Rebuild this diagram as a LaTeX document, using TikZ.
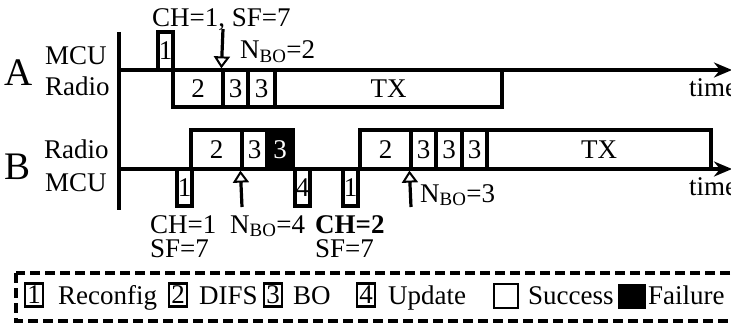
\documentclass[tikz,border=0pt]{standalone}
\usepackage{fontspec}
\setmainfont{Liberation Serif}
\usetikzlibrary{arrows.meta}
\begin{document}
\begin{tikzpicture}[x=1pt,y=-1pt,
  txt/.style={font=\fontsize{27}{27}\selectfont, inner sep=0pt},
  big/.style={font=\fontsize{39}{39}\selectfont, inner sep=0pt},
  axis/.style={line width=3.4pt},
  seg/.style={draw, line width=3.2pt, inner sep=0pt, font=\fontsize{27}{27}\selectfont},
  fail/.style={seg, fill=black, text=white},
  openarr/.style={line width=3.2pt, -{Triangle[open, length=12pt, width=16pt, line width=2pt]}},
  timearr/.style={axis, -{Stealth[length=18pt, width=15pt]}},
  lbox/.style={draw, line width=2.4pt, inner sep=0pt, minimum width=18pt, minimum height=23pt, font=\fontsize{27}{27}\selectfont},
  legend/.style={draw, line width=3.2pt, dash pattern=on 10pt off 5pt}
]
\useasboundingbox (0,0) rectangle (731,326);
\clip (0,0) rectangle (731,326);

% axes
\coordinate (vtop) at (119,32);
\coordinate (vbot) at (119,210);
\draw[axis] (vtop) -- (vbot);
\coordinate (aL) at (118,70);
\coordinate (aR) at (732,70);
\coordinate (bL) at (118,169);
\coordinate (bR) at (732,169);
\draw[timearr] (aL) -- (aR);
\draw[timearr] (bL) -- (bR);

% labels left
\node[big, anchor=base west] (labA) at (4,86) {A};
\node[txt, anchor=base west] (mcuA) at (45,65) {MCU};
\node[txt, anchor=base west] (radA) at (45,96) {Radio};
\node[big, anchor=base west] (labB) at (4,179) {B};
\node[txt, anchor=base west] (radB) at (44,159) {Radio};
\node[txt, anchor=base west] (mcuB) at (45,191) {MCU};

% row A
\node[seg, minimum width=15pt, minimum height=38pt] (a1) at (165.5,51) {1};
\node[seg, minimum width=50pt, minimum height=37pt] (a2) at (198,88.5) {2};
\node[seg, minimum width=25pt, minimum height=37pt] (a3) at (235.5,88.5) {3};
\node[seg, minimum width=27pt, minimum height=37pt] (a3b) at (261.5,88.5) {3};
\node[seg, minimum width=227pt, minimum height=37pt] (atx) at (388.5,88.5) {TX};
\coordinate (arrA) at (223,29);
\draw[openarr] (arrA) -- (a3.north west);
\node[txt, anchor=base west] (cfgA) at (152,27) {CH=1, SF=7};
\node[txt, anchor=base west] (nboA) at (240,59) {N\textsubscript{BO}=2};
\node[txt, anchor=base west] (timeA) at (689,97) {time};

% row B
\node[seg, minimum width=51pt, minimum height=39pt] (b2) at (216.5,149.5) {2};
\node[seg, minimum width=25pt, minimum height=39pt] (b3) at (254.5,149.5) {3};
\node[fail, minimum width=26pt, minimum height=39pt] (b3f) at (280,149.5) {3};
\node[seg, minimum width=51pt, minimum height=39pt] (c2) at (385.5,149.5) {2};
\node[seg, minimum width=25pt, minimum height=39pt] (c3a) at (423.5,149.5) {3};
\node[seg, minimum width=26pt, minimum height=39pt] (c3b) at (449,149.5) {3};
\node[seg, minimum width=25pt, minimum height=39pt] (c3c) at (474.5,149.5) {3};
\node[seg, minimum width=224pt, minimum height=39pt] (ctx) at (599,149.5) {TX};
\node[seg, minimum width=15pt, minimum height=37pt] (b1) at (184.5,187.5) {1};
\node[seg, minimum width=15pt, minimum height=37pt] (b4) at (302.5,187.5) {4};
\node[seg, minimum width=15pt, minimum height=37pt] (c1) at (350.5,187.5) {1};
\coordinate (arrB1) at (242,207);
\coordinate (arrB2) at (411,207);
\draw[openarr] (arrB1) -- (b3.south west);
\draw[openarr] (arrB2) -- (c3a.south west);
\node[txt, anchor=base west] (cfgB1) at (150,233) {CH=1};
\node[txt, anchor=base west] (sfB1) at (150,257) {SF=7};
\node[txt, anchor=base west] (nboB1) at (230,233) {N\textsubscript{BO}=4};
\node[txt, anchor=base west] (cfgB2) at (315,233) {\bfseries CH=2};
\node[txt, anchor=base west] (sfB2) at (315,257) {SF=7};
\node[txt, anchor=base west] (nboB2) at (420,202) {N\textsubscript{BO}=3};
\node[txt, anchor=base west] (timeB) at (689,195) {time};

% legend
\draw[legend] (16,273) rectangle (745,321);
\node[lbox] (l1) at (34,295) {1};
\node[txt, anchor=base west] (t1) at (58,304) {Reconfig};
\node[lbox] (l2) at (178,295) {2};
\node[txt, anchor=base west] (t2) at (199,304) {DIFS};
\node[lbox] (l3) at (273,295) {3};
\node[txt, anchor=base west] (t3) at (293,304) {BO};
\node[lbox] (l4) at (366,295) {4};
\node[txt, anchor=base west] (t4) at (388,304) {Update};
\node[draw, line width=2.4pt, minimum width=24pt, minimum height=24pt, inner sep=0pt] (ls) at (506,296) {};
\node[txt, anchor=base west] (t5) at (528,304) {Success};
\node[draw, fill=black, minimum width=27pt, minimum height=24pt, inner sep=0pt] (lf) at (632,296) {};
\node[txt, anchor=base west] (t6) at (648,304) {Failure};
\end{tikzpicture}
\end{document}
